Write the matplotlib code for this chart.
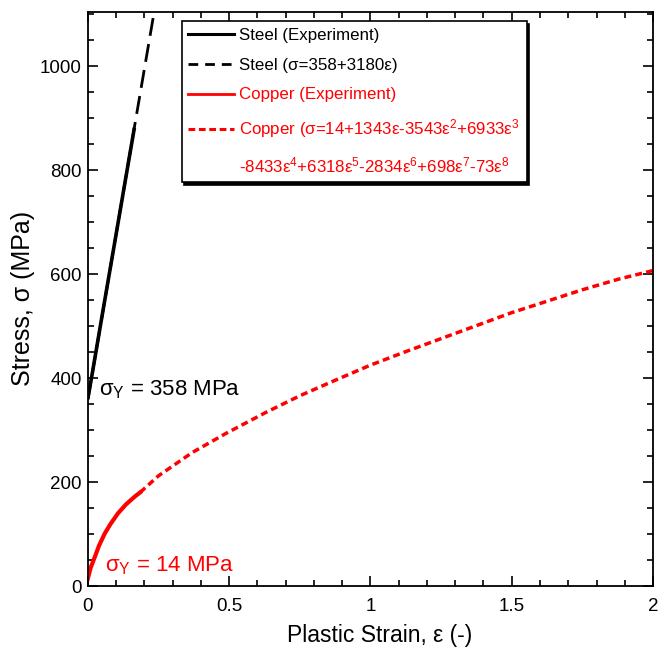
import matplotlib
matplotlib.use("Agg")
import matplotlib.pyplot as plt
from matplotlib.lines import Line2D
from matplotlib.ticker import MultipleLocator, FuncFormatter

plt.rcParams['font.family'] = ['Liberation Sans', 'DejaVu Sans']
plt.rcParams['mathtext.default'] = 'regular'

# steel: experiment and linear fit
steel_exp_x = [0.0, 0.013, 0.05, 0.10, 0.14, 0.165]
steel_exp_y = [360, 400, 518, 676, 803, 882]
steel_fit_x = [0.0, 0.165, 0.235]
steel_fit_y = [358, 883, 1105]

# copper: experiment and polynomial fit
copper_exp_x = [0.0, 0.01, 0.025, 0.04, 0.06, 0.08, 0.107, 0.135, 0.166, 0.185]
copper_exp_y = [14, 35, 56, 78, 101, 119, 140, 157, 172, 180]
copper_fit_x = [0.185, 0.25, 0.37, 0.49, 0.63, 0.75, 0.88, 1.0, 1.125, 1.25,
                1.375, 1.5, 1.625, 1.75, 1.875, 2.0]
copper_fit_y = [180, 212, 257, 294, 334, 366, 397, 425, 451, 476,
                501, 526, 548, 570, 590, 607]

fig = plt.figure(figsize=(6.65, 6.49), dpi=100)
ax = fig.add_axes([0.132, 0.097, 0.85, 0.885])

ax.plot(steel_exp_x, steel_exp_y, color='k', lw=2.6, solid_capstyle='butt')
ax.plot(steel_fit_x, steel_fit_y, color='k', lw=2.0, dashes=(6.5, 3))
ax.plot(copper_exp_x, copper_exp_y, color='red', lw=3.0)
ax.plot(copper_fit_x, copper_fit_y, color='red', lw=2.5, dashes=(2, 1.2))

ax.set_xlim(0, 2)
ax.set_ylim(0, 1105)
ax.xaxis.set_major_locator(MultipleLocator(0.5))
ax.xaxis.set_minor_locator(MultipleLocator(0.1))
ax.yaxis.set_major_locator(MultipleLocator(200))
ax.yaxis.set_minor_locator(MultipleLocator(50))
ax.xaxis.set_major_formatter(FuncFormatter(lambda v, p: '%g' % v))
ax.tick_params(which='both', direction='in', top=True, right=True, labelsize=13.5, width=1.2)
ax.tick_params(which='major', length=7)
ax.tick_params(which='minor', length=4)
ax.tick_params(axis='x', which='major', pad=8.5)
ax.tick_params(axis='y', which='major', pad=4.5)
for s in ax.spines.values():
    s.set_linewidth(1.3)

ax.set_xlabel('Plastic Strain, ε (-)', fontsize=16.5)
ax.xaxis.set_label_coords(0.517, -0.066)
ax.set_ylabel('Stress, σ (MPa)', fontsize=18, labelpad=3)

ax.text(0.04, 378, 'σ$_Y$ = 358 MPa', fontsize=16, color='k', va='center')
ax.text(0.062, 40, 'σ$_Y$ = 14 MPa', fontsize=16, color='red', va='center')

# legend, copper fit label split in two lines
handles = [
    Line2D([], [], color='k', lw=2.2),
    Line2D([], [], color='k', lw=2.0, dashes=(3.5, 2.5)),
    Line2D([], [], color='red', lw=2.0),
    Line2D([], [], color='red', lw=2.2, dashes=(2.2, 1.2)),
    Line2D([], [], color='none'),
]
labels = [
    'Steel (Experiment)',
    'Steel (σ=358+3180ε)',
    'Copper (Experiment)',
    'Copper (σ=14+1343ε-3543ε$^2$+6933ε$^3$',
    '-8433ε$^4$+6318ε$^5$-2834ε$^6$+698ε$^7$-73ε$^8$',
]
leg = ax.legend(handles, labels, loc='upper left', bbox_to_anchor=(0.166, 0.984),
                borderaxespad=0, fontsize=12.2, handlelength=2.7, handletextpad=0.3,
                labelspacing=0.88, fancybox=False, edgecolor='k', framealpha=1,
                shadow={'color': 'k', 'alpha': 1})
leg.get_frame().set_linewidth(1.2)
for i, t in enumerate(leg.get_texts()):
    if i >= 2:
        t.set_color('red')

fig.savefig('out.png', dpi=100)
